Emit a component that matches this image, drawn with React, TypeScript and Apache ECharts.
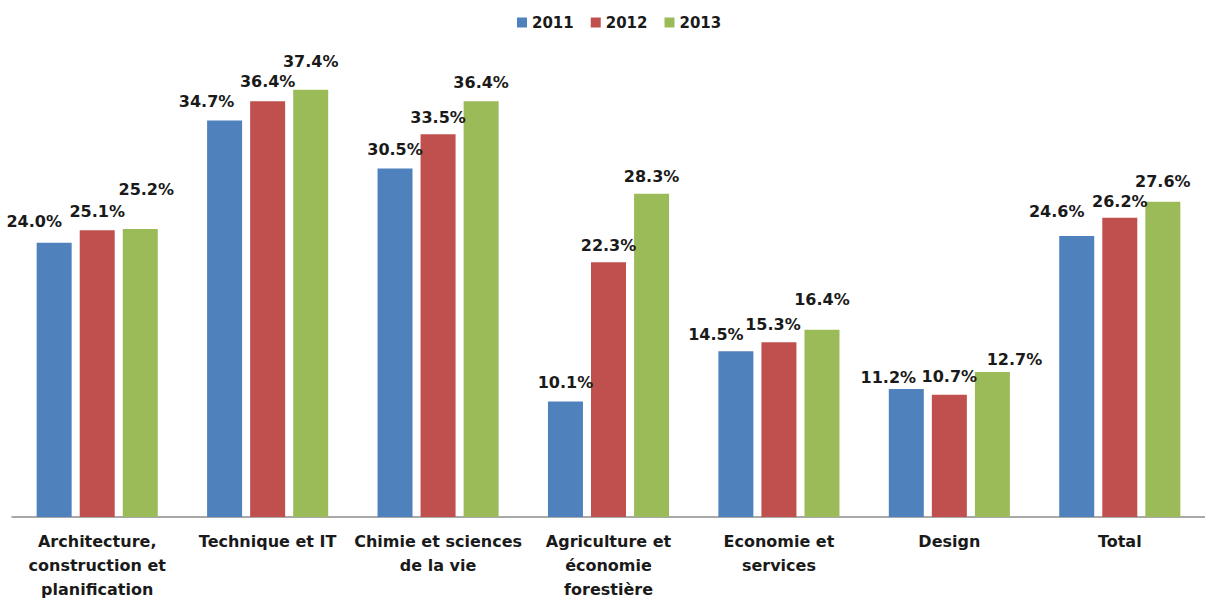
import React, { useEffect, useRef } from "react";
import * as echarts from "echarts";

const categories = [
  "Architecture,\nconstruction et\nplanification",
  "Technique et IT",
  "Chimie et sciences\nde la vie",
  "Agriculture et\néconomie\nforestière",
  "Economie et\nservices",
  "Design",
  "Total",
];
const seriesNames = ["2011", "2012", "2013"];
const values2011 = [24.0, 34.7, 30.5, 10.1, 14.5, 11.2, 24.6];
const values2012 = [25.1, 36.4, 33.5, 22.3, 15.3, 10.7, 26.2];
const values2013 = [25.2, 37.4, 36.4, 28.3, 16.4, 12.7, 27.6];

// label placement tweaks (x shift, height above bar top), as in the reference
const shift2011: [number, number][] = [[-20, 21], [-18, 19], [0, 19], [0, 19], [-20, 17], [-18, 12], [-20, 24]];
const shift2012: [number, number][] = [[0, 19], [0, 20], [0, 17], [0, 17], [-6, 18], [0, 18], [0, 16]];
const shift2013: [number, number][] = [[6, 40], [0, 28], [0, 19], [0, 17], [0, 30], [22, 12], [0, 20]];

const colors = ["#4F81BD", "#C0504D", "#9BBB59"];
const FONT = "DejaVu Sans";

export default function App() {
  const ref = useRef<HTMLDivElement>(null);
  useEffect(() => {
    if (!ref.current) return;
    const chart = echarts.init(ref.current, undefined, { renderer: "svg" });
    const all = [values2011, values2012, values2013];
    const shifts = [shift2011, shift2012, shift2013];
    chart.setOption({
      animation: false,
      color: colors,
      legend: {
        data: seriesNames,
        left: 512,
        top: 10,
        itemWidth: 10,
        itemHeight: 10,
        itemGap: 17,
        icon: "rect",
        textStyle: { fontFamily: FONT, fontWeight: "bold", fontSize: 15, color: "#1a1a1a" },
      },
      grid: { left: 12, top: 60, width: 1206, height: 462, containLabel: false },
      xAxis: {
        type: "category",
        data: categories,
        axisLine: { lineStyle: { color: "#8c8c8c", width: 1.5 } },
        axisTick: { show: false },
        axisLabel: {
          interval: 0,
          margin: 12,
          fontFamily: FONT,
          fontWeight: "bold",
          fontSize: 16,
          lineHeight: 24,
          color: "#1a1a1a",
        },
      },
      yAxis: { type: "value", min: 0, max: 40, show: false, splitLine: { show: false } },
      series: all.map((vals, si) => ({
        name: seriesNames[si],
        type: "bar",
        barWidth: 35,
        barGap: "23%",
        data: vals.map((v, i) => ({
          value: v,
          label: { offset: [shifts[si][i][0], -(shifts[si][i][1] - 8)] },
        })),
        label: {
          show: true,
          position: "top",
          distance: 0,
          fontFamily: FONT,
          fontWeight: "bold",
          fontSize: 16,
          color: "#1a1a1a",
          formatter: (p: any) => p.value.toFixed(1) + "%",
        },
      })),
    });
    return () => chart.dispose();
  }, []);
  return (
    <div
      ref={ref}
      style={{ position: "fixed", left: 0, top: 0, width: 1205, height: 601, background: "#fff" }}
    />
  );
}
